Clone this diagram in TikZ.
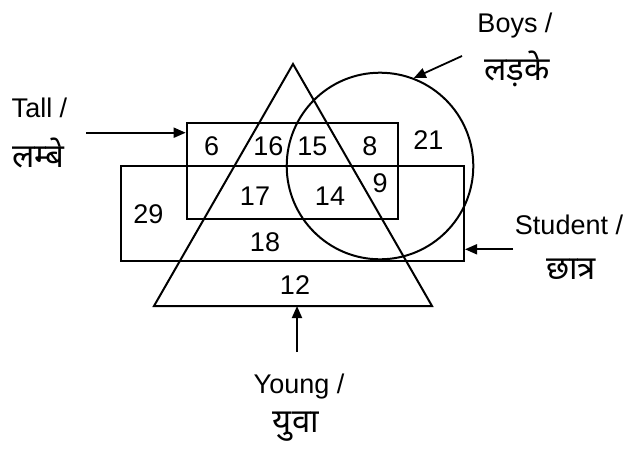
\documentclass[tikz,border=0pt]{standalone}
\usepackage{fontspec}
\setmainfont{Liberation Sans}
\newfontfamily\hindi[Script=Devanagari]{Noto Sans}
\usetikzlibrary{arrows.meta}

\begin{document}
\begin{tikzpicture}[x=0.5pt, y=-0.5pt, line width=1pt,
  num/.style={font=\fontsize{13.5}{15}\selectfont, inner sep=0pt},
  lbl/.style={font=\fontsize{13.5}{16}\selectfont, inner sep=0pt, anchor=base},
  hin/.style={font=\hindi\fontsize{16.5}{18}\selectfont, inner sep=0pt},
  pointer/.style={-{Triangle[length=6pt, width=5pt]}, line width=0.9pt}]
  \useasboundingbox (0,0) rectangle (630,449);

  % Sets
  \draw (154,306) coordinate (ybl) -- (293,64) coordinate (ytop)
    -- (432,306) coordinate (ybr) -- cycle;
  \node[draw, minimum width=105.8pt, minimum height=47.8pt, inner sep=0pt] (tall) at (292.5,171.2) {};
  \node[draw, minimum width=171.5pt, minimum height=47.5pt, inner sep=0pt] (student) at (292.5,213.2) {};
  \node[draw, circle, minimum size=93.3pt, inner sep=0pt] (boys) at (380,166) {};

  % Region counts
  \node[num] (n6)  at (211.7,146.7) {6};
  \node[num] (n16) at (268.3,146.7) {16};
  \node[num] (n15) at (312.3,146.7) {15};
  \node[num] (n8)  at (370,146.7) {8};
  \node[num] (n21) at (428.3,140) {21};
  \node[num] (n9)  at (380,183.3) {9};
  \node[num] (n17) at (255,196.7) {17};
  \node[num] (n14) at (330,196.7) {14};
  \node[num] (n29) at (148.3,214) {29};
  \node[num] (n18) at (265,242.3) {18};
  \node[num] (n12) at (295,285) {12};

  % Labels
  \node[lbl] (talltxt) at (39.5,117) {Tall /};
  \node[hin] (tallhin) at (38.5,153) {लम्बे};
  \node[lbl] (boystxt) at (515,33) {Boys /};
  \node[hin] (boyshin) at (517,69) {लड़के};
  \node[lbl] (studtxt) at (569,234.3) {Student /};
  \node[hin] (studhin) at (571,269) {छात्र};
  \node[lbl] (youngtxt) at (299,393.3) {Young /};
  \node[hin] (younghin) at (296,427) {युवा};

  % Pointers
  \coordinate (tallfrom) at (86,132.7);
  \coordinate (boysfrom) at (462,56);
  \coordinate (studfrom) at (513,249.3);
  \coordinate (youngfrom) at (297,352);
  \draw[pointer] (tallfrom) -- (tall.west |- tallfrom);
  \draw[pointer] (boysfrom) -- (boys.69);
  \draw[pointer] (studfrom) -- (student.east |- studfrom);
  \draw[pointer] (youngfrom) -- (youngfrom |- ybl);
\end{tikzpicture}
\end{document}
